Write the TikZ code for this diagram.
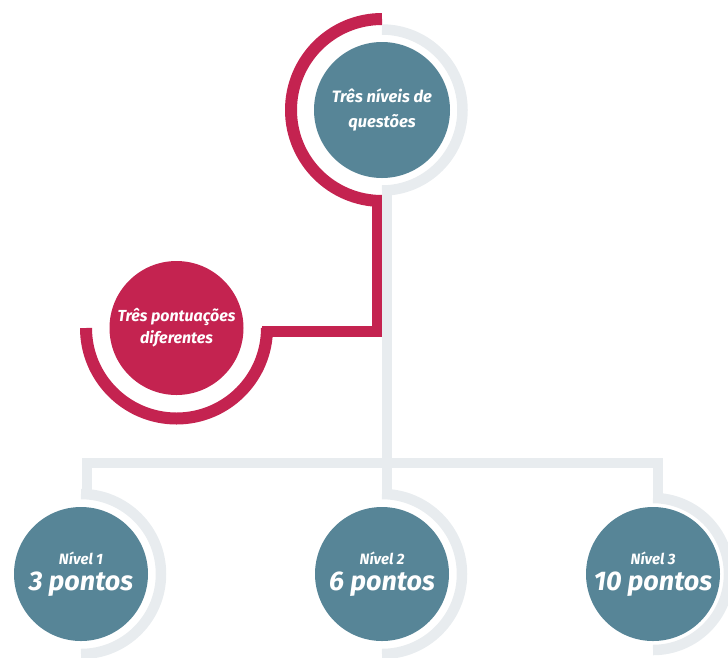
\documentclass[tikz,border=0pt]{standalone}
\usepackage{fontspec}
\setmainfont{Fira Sans}
\definecolor{cteal}{RGB}{87,133,151}
\definecolor{cred}{RGB}{196,35,80}
\definecolor{cgray}{RGB}{232,236,239}
\tikzset{
  disc/.style={circle, fill=cteal, minimum size=134pt, inner sep=0pt, text=white,
    font=\bfseries\itshape, align=center},
  reddisc/.style={disc, fill=cred},
  redring/.style={draw=cred, line width=12pt},
  redline/.style={draw=cred, line width=11pt},
  grayring/.style={draw=cgray, line width=10.5pt},
  grayline/.style={draw=cgray, line width=10pt},
  small/.style={font=\bfseries\itshape\fontsize{16}{20}\selectfont},
}
\newcommand{\lvl}[2]{{\fontsize{15}{16}\selectfont #1}\\[6pt]{\fontsize{27}{27}\selectfont #2}}
\begin{document}
\begin{tikzpicture}[x=1pt,y=-1pt]
\useasboundingbox (0,0) rectangle (728,657);
\clip (0,0) rectangle (728,657);
% circles (named)
\node[disc, minimum size=136pt, font=\bfseries\itshape\fontsize{16.5}{22}\selectfont] (top) at (382,110) {Três níveis de\\[3pt]questões};
\node[reddisc, font=\bfseries\itshape\fontsize{16}{20}\selectfont] (pts) at (176.5,328) {Três pontuações\\[2pt]diferentes};
\node[disc] (n1) at (81,574) {\lvl{Nível 1}{3 pontos}};
\node[disc] (n2) at (382,574) {\lvl{Nível 2}{6 pontos}};
\node[disc] (n3) at (653,574) {\lvl{Nível 3}{10 pontos}};
% coordinates for connectors
\coordinate (rv1) at (377,196);
\coordinate (rv2) at (377,331);
\coordinate (rh) at (262,331);
\coordinate (gv1) at (387,188);
\coordinate (gj) at (387,463);
\coordinate (gl) at (87,463);
\coordinate (gr) at (658,463);
\coordinate (gl2) at (87,497);
\coordinate (gm2) at (387,497);
\coordinate (gr2) at (658,500);
% red rings and connector
\draw[redring] (top.center) ++(-90:91) arc[start angle=-90, end angle=-270, radius=91];
\draw[redline] (rv1) -- (rv2) -- (rh);
\draw[redring] (pts.center) ++(0:90.5) arc[start angle=0, end angle=180, radius=90.5];
% gray rings and connectors
\draw[grayring] (top.center) ++(-90:80.5) arc[start angle=-90, end angle=90, radius=80.5];
\draw[grayline] (gv1) -- (gj);
\draw[grayline] (gl2) -- (gl) -- (gr) -- (gr2);
\draw[grayline] (gj) -- (gm2);
\draw[grayring] (n1.center) ++(-90:80) arc[start angle=-90, end angle=90, radius=80];
\draw[grayring] (n2.center) ++(-90:80) arc[start angle=-90, end angle=90, radius=80];
\draw[grayring] (n3.center) ++(-90:76) arc[start angle=-90, end angle=90, radius=76];
\end{tikzpicture}
\end{document}
